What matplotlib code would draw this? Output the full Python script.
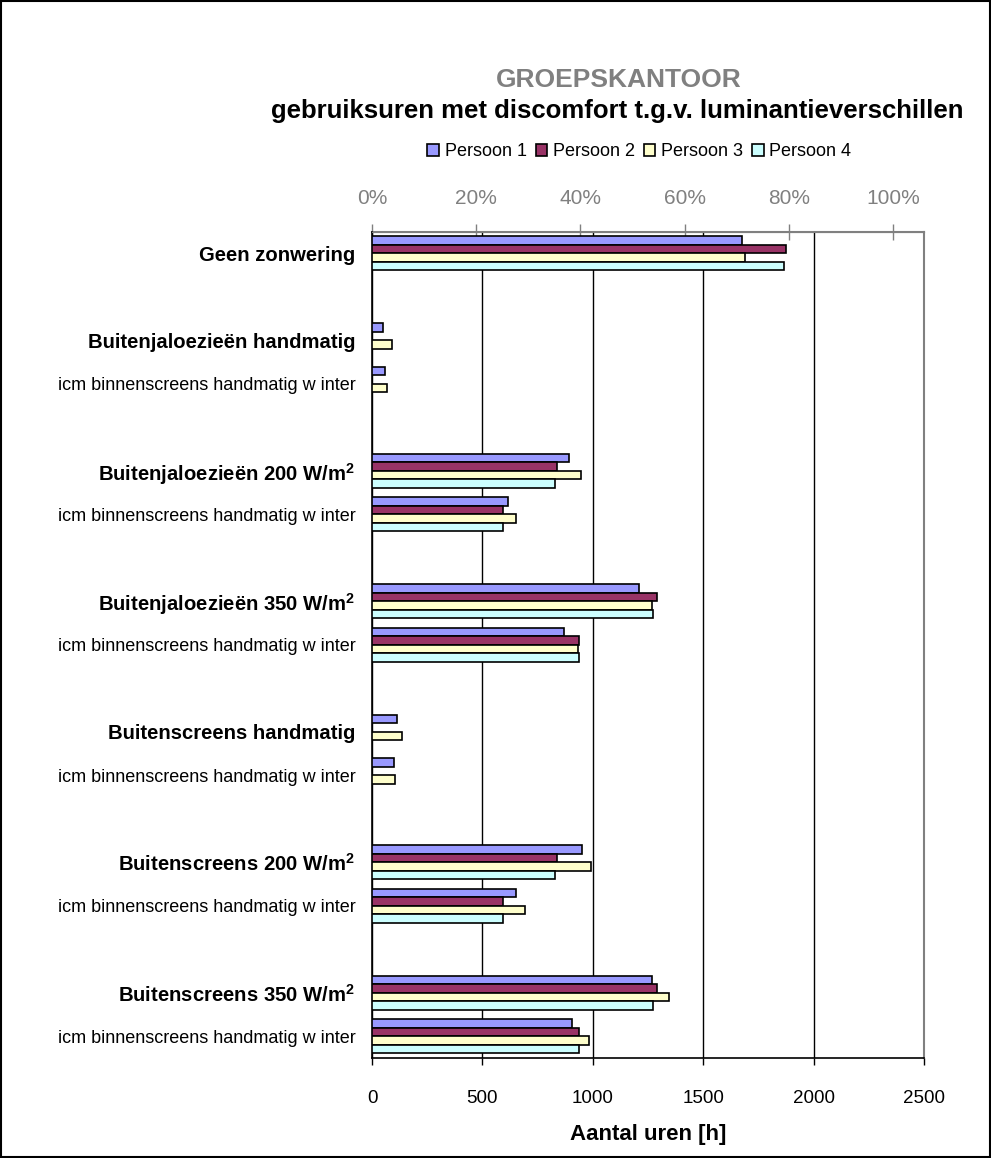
import numpy as np
import matplotlib.pyplot as plt
from matplotlib.patches import Rectangle
from matplotlib.ticker import FuncFormatter

plt.rcParams["font.family"] = ["Liberation Sans", "DejaVu Sans"]
plt.rcParams["mathtext.fontset"] = "custom"
plt.rcParams["mathtext.rm"] = "Liberation Sans"
plt.rcParams["mathtext.bf"] = "Liberation Sans:bold"

# ---------------------------
# Data (hours with discomfort)
# ---------------------------
categories = [
    "Geen zonwering",
    "Buitenjaloezieën handmatig",
    "icm binnenscreens handmatig w inter",
    r"Buitenjaloezieën 200 W/m$^{\mathbf{2}}$",
    "icm binnenscreens handmatig w inter",
    r"Buitenjaloezieën 350 W/m$^{\mathbf{2}}$",
    "icm binnenscreens handmatig w inter",
    "Buitenscreens handmatig",
    "icm binnenscreens handmatig w inter",
    r"Buitenscreens 200 W/m$^{\mathbf{2}}$",
    "icm binnenscreens handmatig w inter",
    r"Buitenscreens 350 W/m$^{\mathbf{2}}$",
    "icm binnenscreens handmatig w inter",
]
is_main = [True, True, False, True, False, True, False, True, False, True, False, True, False]

persoon_1 = [1675, 51, 60, 891, 616, 1208, 870, 115, 98, 953, 652, 1268, 907]
persoon_2 = [1875, np.nan, np.nan, 838, 592, 1292, 939, np.nan, np.nan, 838, 592, 1291, 937]
persoon_3 = [1691, 92, 69, 945, 654, 1268, 931, 137, 106, 990, 691, 1345, 983]
persoon_4 = [1868, np.nan, np.nan, 829, 592, 1274, 937, np.nan, np.nan, 829, 592, 1274, 937]

series_labels = ["Persoon 1", "Persoon 2", "Persoon 3", "Persoon 4"]
series_values = [persoon_1, persoon_2, persoon_3, persoon_4]
colors = ["#9999FF", "#993366", "#FFFFCC", "#CCFFFF"]

total_hours = 2360  # 100% on the top axis

# slot positions: an empty slot before every new main group
positions = []
slot = -1
for i, main in enumerate(is_main):
    slot += 2 if (main and i > 0) else 1
    positions.append(slot)
positions = np.array(positions, dtype=float)
n_slots = slot + 1

# ---------------------------
# Figure
# ---------------------------
fig = plt.figure(figsize=(9.91, 11.58), dpi=100)
ax = fig.add_axes([0.3754, 0.0864, 0.557, 0.7135])

bh = 0.195
for k, (lab, vals, col) in enumerate(zip(series_labels, series_values, colors)):
    ax.barh(positions + (k - 1.5) * bh, vals, height=bh, color=col,
            edgecolor="black", linewidth=1.2, label=lab, zorder=3)

ax.set_ylim(n_slots - 0.5, -0.5)
ax.set_xlim(0, 2500)
ax.set_xticks([0, 500, 1000, 1500, 2000, 2500])
ax.tick_params(axis="x", direction="out", length=5, width=1, labelsize=13.5, pad=18, color="black")
ax.set_yticks(positions)
ax.set_yticklabels(categories)
ax.tick_params(axis="y", length=0, pad=12)
for lbl, main in zip(ax.get_yticklabels(), is_main):
    if main:
        lbl.set_fontweight("bold")
        lbl.set_fontsize(14.6)
    else:
        lbl.set_fontsize(13)

ax.grid(axis="x", color="black", linewidth=1, zorder=0)
ax.set_axisbelow(True)
ax.spines["top"].set_color("#808080")
ax.spines["right"].set_color("#808080")
ax.spines["right"].set_linewidth(1.5)
ax.spines["left"].set_linewidth(1.2)
ax.spines["bottom"].set_linewidth(1.2)
ax.set_xlabel("Aantal uren [h]", fontsize=16, fontweight="bold", labelpad=12)

# percentage axis on top
top = ax.secondary_xaxis("top", functions=(lambda x: x / total_hours * 100,
                                           lambda p: p * total_hours / 100))
top.set_xticks([0, 20, 40, 60, 80, 100])
top.xaxis.set_major_formatter(FuncFormatter(lambda v, p: f"{v:.0f}%"))
top.tick_params(axis="x", direction="inout", length=12, width=1, colors="#808080",
                labelsize=15, pad=11)
top.spines["top"].set_color("#808080")
top.spines["top"].set_linewidth(1.5)

# titles
fig.text(0.624, 0.931, "GROEPSKANTOOR", ha="center", va="center",
         fontsize=19, fontweight="bold", color="#808080")
fig.text(0.623, 0.904, "gebruiksuren met discomfort t.g.v. luminantieverschillen",
         ha="center", va="center", fontsize=18.5, fontweight="bold")

fig.legend(loc="center", bbox_to_anchor=(0.645, 0.869), ncol=4, frameon=False,
           fontsize=13, handlelength=0.65, handleheight=0.65, handletextpad=0.3,
           columnspacing=0.5)

# chart border
fig.patches.append(Rectangle((0.001, 0.001), 0.998, 0.998, transform=fig.transFigure,
                             fill=False, edgecolor="black", linewidth=1.5))

fig.savefig("out.png", dpi=100)
